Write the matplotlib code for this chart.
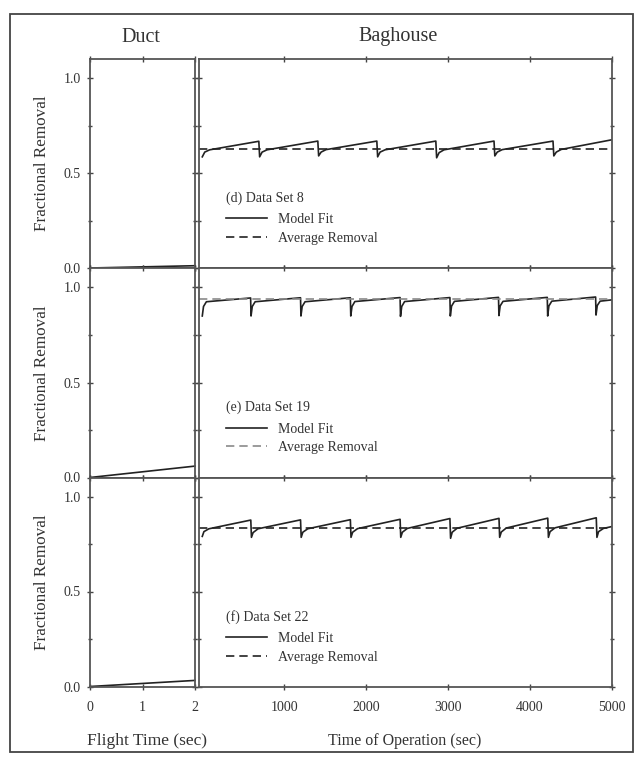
import matplotlib
matplotlib.use("Agg")
import matplotlib.pyplot as plt
from matplotlib.lines import Line2D
from matplotlib.patches import Rectangle
from matplotlib.ticker import FixedLocator

plt.rcParams['font.family'] = ['Liberation Serif', 'DejaVu Serif']

# ---------------- data ----------------
duct_t = [0.0, 0.5, 1.0, 1.5, 2.0]
duct_d = [0.0, 0.003, 0.006, 0.009, 0.012]
duct_e = [0.0, 0.015, 0.030, 0.045, 0.060]
duct_f = [0.0, 0.008, 0.016, 0.024, 0.032]

# (d) Data Set 8 – model fit (sawtooth) and average removal
bag_d_t = [0, 30, 90, 690, 700, 730, 790, 1410, 1420, 1450, 1510, 2130, 2140, 2170, 2230,
           2850, 2860, 2890, 2950, 3560, 3570, 3600, 3660, 4280, 4290, 4320, 4380, 5000]
bag_d_y = [0.585, 0.610, 0.622, 0.667, 0.585, 0.610, 0.622, 0.668, 0.590, 0.610, 0.623, 0.668,
           0.585, 0.610, 0.622, 0.668, 0.580, 0.607, 0.622, 0.668, 0.590, 0.610, 0.623, 0.668,
           0.590, 0.610, 0.624, 0.675]
avg_d = 0.625

# (e) Data Set 19
bag_e_t = [0, 15, 50, 590, 595, 610, 645, 1199, 1204, 1219, 1254, 1807, 1812, 1827, 1862,
           2414, 2419, 2434, 2469, 3022, 3027, 3042, 3077, 3615, 3620, 3635, 3670,
           4210, 4215, 4230, 4265, 4800, 4805, 4820, 4855, 5000]
bag_e_y = [0.850, 0.900, 0.925, 0.945, 0.850, 0.900, 0.925, 0.946, 0.850, 0.900, 0.925, 0.946,
           0.850, 0.900, 0.926, 0.947, 0.848, 0.900, 0.926, 0.947, 0.850, 0.902, 0.927,
           0.948, 0.852, 0.903, 0.927, 0.948, 0.850, 0.903, 0.928, 0.950, 0.855, 0.905, 0.928, 0.935]
avg_e = 0.940

# (f) Data Set 22
bag_f_t = [0, 20, 80, 592, 600, 620, 680, 1199, 1207, 1227, 1287, 1807, 1815, 1835, 1895,
           2414, 2422, 2442, 2502, 3022, 3030, 3050, 3110, 3621, 3629, 3649, 3709,
           4216, 4224, 4244, 4304, 4808, 4816, 4836, 4896, 5000]
bag_f_y = [0.790, 0.815, 0.830, 0.876, 0.785, 0.810, 0.830, 0.877, 0.785, 0.812, 0.830, 0.878,
           0.785, 0.812, 0.831, 0.880, 0.785, 0.812, 0.832, 0.884, 0.780, 0.812, 0.833,
           0.885, 0.785, 0.813, 0.834, 0.886, 0.785, 0.815, 0.835, 0.888, 0.785, 0.815, 0.832, 0.842]
avg_f = 0.835

panel_titles = ['(d) Data Set 8', '(e) Data Set 19', '(f) Data Set 22']
duct_ticks = [0, 1, 2]
bag_ticks = [1000, 2000, 3000, 4000, 5000]
y_ticks = [0.0, 0.5, 1.0]

rows = [
    (duct_d, bag_d_t, bag_d_y, avg_d, '#222222'),
    (duct_e, bag_e_t, bag_e_y, avg_e, '#8a8a8a'),
    (duct_f, bag_f_t, bag_f_y, avg_f, '#222222'),
]

# ---------------- layout ----------------
W, H = 638, 760
fig = plt.figure(figsize=(W / 100, H / 100), dpi=100)

def fx(px):
    return px / W

def fy(py):
    return 1 - py / H

ink = '#222222'
txt = '#333333'
row_tops = [59, 268.5, 477.5]
row_h = 209
duct_l, duct_r = 90, 195
bag_l, bag_r = 199, 612

for i, (ductv, bt, by, avg, avgcol) in enumerate(rows):
    top = row_tops[i]
    bottom_px = top + row_h
    axd = fig.add_axes([fx(duct_l), fy(bottom_px), fx(duct_r - duct_l), row_h / H])
    axb = fig.add_axes([fx(bag_l), fy(bottom_px), fx(bag_r - bag_l), row_h / H])

    for ax in (axd, axb):
        ax.set_ylim(0, 1.1)
        for s in ax.spines.values():
            s.set_color('#555555')
            s.set_linewidth(1.3)
        ax.yaxis.set_major_locator(FixedLocator(y_ticks))
        ax.yaxis.set_minor_locator(FixedLocator([0.25, 0.75]))
        ax.tick_params(which='both', colors='#444444', width=1.0, labelsize=10,
                       labelcolor=txt, top=True, right=True)
        ax.tick_params(which='major', length=5)
        ax.tick_params(which='minor', length=3)

    # duct
    axd.set_xlim(0, 2)
    axd.xaxis.set_major_locator(FixedLocator(duct_ticks))
    axd.plot(duct_t, ductv, color=ink, lw=1.2, clip_on=False)
    axd.tick_params(axis='y', which='both', direction='inout', left=True, right=True, pad=4)
    axd.tick_params(axis='x', which='both', direction='inout')
    axd.set_yticklabels(['0.0', '0.5', '1.0'])
    axd.set_ylabel('Fractional Removal', fontsize=12.3, color=txt, labelpad=10)

    # baghouse
    axb.set_xlim(-40, 5000)
    axb.xaxis.set_major_locator(FixedLocator(bag_ticks))
    axb.plot(bt, by, color=ink, lw=1.2)
    axb.axhline(avg, color=avgcol, lw=1.2, ls=(0, (5, 3)))
    axb.tick_params(axis='y', which='both', direction='inout', labelleft=False)
    axb.tick_params(axis='x', which='both', direction='inout')

    handles = [Line2D([], [], color=ink, lw=1.2),
               Line2D([], [], color=avgcol, lw=1.2, ls=(0, (5, 3)))]
    leg = axb.legend(handles, ['Model Fit', 'Average Removal'], title=panel_titles[i],
                     loc='upper left', bbox_to_anchor=(0.065, 0.366), frameon=False,
                     fontsize=10, title_fontsize=10, alignment='left',
                     handlelength=2.95, handletextpad=0.8, labelspacing=0.38,
                     borderaxespad=0, borderpad=0)
    leg.get_title().set_color(txt)
    leg._legend_box.sep = 6
    for t in leg.get_texts():
        t.set_color(txt)

    if i < 2:
        axd.tick_params(axis='x', labelbottom=False)
        axb.tick_params(axis='x', labelbottom=False)
    else:
        axd.set_xticklabels(['0', '1', '2'])
        axb.set_xticklabels([str(v) for v in bag_ticks])
        axd.tick_params(axis='x', pad=8)
        axb.tick_params(axis='x', pad=8)

# headers and axis titles
fig.text(fx(141), fy(37), 'Duct', fontsize=14.5, ha='center', va='center', color=txt)
fig.text(fx(398), fy(37), 'Baghouse', fontsize=14.5, ha='center', va='center', color=txt)
fig.text(fx(147), fy(741), 'Flight Time (sec)', fontsize=12.5, ha='center', va='center', color=txt)
fig.text(fx(405), fy(741), 'Time of Operation (sec)', fontsize=11.5, ha='center', va='center', color=txt)

# outer frame
fig.patches.append(Rectangle((fx(10), fy(752)), fx(633 - 10), (752 - 14) / H,
                             transform=fig.transFigure, fill=False,
                             edgecolor='#444444', lw=1.3))

fig.savefig('out.png', dpi=100)
